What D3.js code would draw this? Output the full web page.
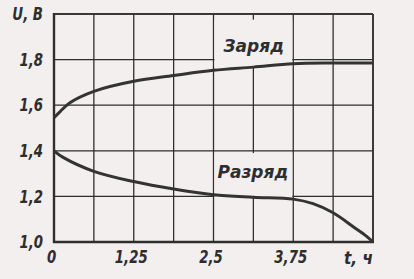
<!DOCTYPE html>
<html>
<head>
<meta charset="utf-8">
<script src="https://cdn.jsdelivr.net/npm/d3@7"></script>
<style>
  body { margin: 0; background: #f3efee; }
  svg { display: block; }
  text { font-family: "DejaVu Sans", sans-serif; font-style: italic; font-weight: bold; fill: #2e2e2e; }
</style>
</head>
<body>
<div id="chart"></div>
<script>
// data
const chargeT = [0, 0.1, 0.25, 0.625, 1.25, 1.875, 2.5, 3.125, 3.75, 4.375, 5];
const chargeU = [1.545, 1.573, 1.611, 1.661, 1.705, 1.730, 1.753, 1.767, 1.782, 1.785, 1.785];
const dischargeT = [0, 0.15, 0.625, 1.25, 1.875, 2.5, 3.125, 3.75, 4.06, 4.375, 4.69, 4.9, 5];
const dischargeU = [1.40, 1.37, 1.31, 1.265, 1.232, 1.207, 1.196, 1.188, 1.168, 1.128, 1.067, 1.025, 1.0];

const xGrid = [0, 0.625, 1.25, 1.875, 2.5, 3.125, 3.75, 4.375, 5];
const xTicks = [0, 1.25, 2.5, 3.75];
const xTickLabels = ["0", "1,25", "2,5", "3,75"];
const yTicks = [1.0, 1.2, 1.4, 1.6, 1.8, 2.0];
const yTickLabels = ["1,0", "1,2", "1,4", "1,6", "1,8", "U, В"];
const xTitle = "t, ч";
const seriesNames = ["Заряд", "Разряд"];

const width = 414, height = 279;
const ink = "#2e2e2e";
const bg = "#f3efee";
const squeeze = 0.74;   // the lettering on the drawing is narrow

const svg = d3.select("#chart").append("svg")
    .attr("width", width)
    .attr("height", height);

const x = d3.scaleLinear().domain([0, 5]).range([54, 373]);
const y = d3.scaleLinear().domain([1.0, 2.0]).range([242, 14]);

// grid
const grid = svg.append("g").attr("stroke", ink).attr("stroke-width", 1.3);
grid.selectAll(".vg").data(xGrid).enter().append("line")
    .attr("x1", d => x(d)).attr("x2", d => x(d))
    .attr("y1", y(2.0)).attr("y2", y(1.0));
grid.selectAll(".hg").data(yTicks).enter().append("line")
    .attr("x1", x(0)).attr("x2", x(5))
    .attr("y1", d => y(d)).attr("y2", d => y(d));

// paper patches where the labels were lettered over the grid
svg.append("rect")
    .attr("x", x(2.5) + 1).attr("width", x(3.75) - x(2.5) - 2)
    .attr("y", y(1.975)).attr("height", y(1.77) - y(1.975))
    .attr("fill", bg);
svg.append("rect")
    .attr("x", x(2.5) + 1).attr("width", x(3.75) - x(2.5) - 2)
    .attr("y", y(1.39)).attr("height", y(1.195) - y(1.39))
    .attr("fill", bg);

// frame
svg.append("line").attr("stroke", ink).attr("stroke-width", 2.4)
    .attr("x1", x(0)).attr("x2", x(0)).attr("y1", y(2.0) - 1).attr("y2", y(1.0) + 1);
svg.append("line").attr("stroke", ink).attr("stroke-width", 2.4)
    .attr("x1", x(0) - 1).attr("x2", x(5) + 1).attr("y1", y(1.0)).attr("y2", y(1.0));
svg.append("line").attr("stroke", ink).attr("stroke-width", 1.6)
    .attr("x1", x(0)).attr("x2", x(5)).attr("y1", y(2.0)).attr("y2", y(2.0));
svg.append("line").attr("stroke", ink).attr("stroke-width", 1.6)
    .attr("x1", x(5)).attr("x2", x(5)).attr("y1", y(2.0)).attr("y2", y(1.0));

// curves
const line = d3.line()
    .x(d => x(d[0]))
    .y(d => y(d[1]))
    .curve(d3.curveCatmullRom.alpha(0.5));

svg.append("path")
    .datum(d3.zip(chargeT, chargeU))
    .attr("d", line)
    .attr("fill", "none").attr("stroke", "#333").attr("stroke-width", 3);
svg.append("path")
    .datum(d3.zip(dischargeT, dischargeU))
    .attr("d", line)
    .attr("fill", "none").attr("stroke", "#333").attr("stroke-width", 3);

// axes labels
const yAxis = d3.axisLeft(y).tickValues(yTicks).tickSize(0)
    .tickFormat((d, i) => yTickLabels[i]);
const gy = svg.append("g").attr("transform", `translate(${x(0)},0)`).call(yAxis);
gy.select(".domain").remove();
gy.selectAll("text")
    .attr("font-size", 18).attr("font-family", null).attr("fill", ink)
    .attr("x", -11 / squeeze)
    .attr("transform", `scale(${squeeze},1)`);

const xAxis = d3.axisBottom(x).tickValues(xTicks).tickSize(0).tickPadding(8)
    .tickFormat((d, i) => xTickLabels[i]);
const gx = svg.append("g").attr("transform", `translate(0,${y(1.0)})`).call(xAxis);
gx.select(".domain").remove();
gx.selectAll("text")
    .attr("font-size", 18).attr("font-family", null).attr("fill", ink)
    .attr("x", -3 / squeeze)
    .attr("transform", `scale(${squeeze},1)`);

svg.append("text")
    .attr("transform", `translate(${x(5)},${y(1.0) + 22}) scale(0.85,1)`)
    .attr("text-anchor", "end")
    .attr("font-size", 18)
    .text(xTitle);

// curve names
svg.append("text")
    .attr("x", x(2.5) + 10).attr("y", y(1.835))
    .attr("font-size", 17)
    .text(seriesNames[0]);
svg.append("text")
    .attr("x", x(2.5) + 4).attr("y", y(1.28))
    .attr("font-size", 17)
    .text(seriesNames[1]);
</script>
</body>
</html>
